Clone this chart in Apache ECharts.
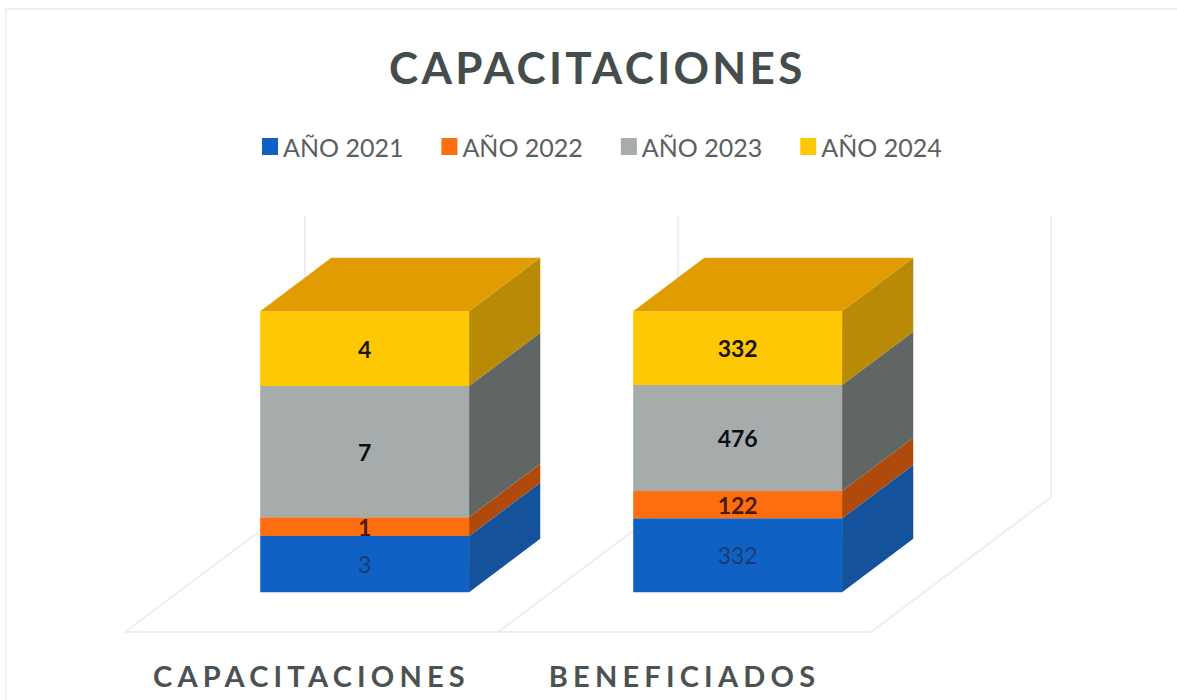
<!DOCTYPE html>
<html>
<head>
<meta charset="utf-8">
<title>CAPACITACIONES</title>
<script src="https://cdn.jsdelivr.net/npm/echarts@6/dist/echarts.min.js"></script>
<style>
  html, body { margin: 0; padding: 0; background: #fff; }
  #main { width: 1177px; height: 700px; }
  /* echarts has no letterSpacing, the svg renderer lets css do it */
  #main text[style*="44px"] { letter-spacing: 3.3px; }
  #main text[style*="29px"] { letter-spacing: 5.2px; }
</style>
</head>
<body>
<div id="main"></div>
<script>
const categories = ["CAPACITACIONES", "BENEFICIADOS"];
const anio2021 = [3, 332];
const anio2022 = [1, 122];
const anio2023 = [7, 476];
const anio2024 = [4, 332];

const yearNames = ["AÑO 2021", "AÑO 2022", "AÑO 2023", "AÑO 2024"];
const yearValues = [anio2021, anio2022, anio2023, anio2024];
const frontColors = ["#0f62c4", "#fd6e10", "#a5acab", "#fec805"];
const sideColors = ["#14529c", "#b04a0c", "#5f6663", "#b98a05"];
const labelColors = ["#1b3a75", "#4a1c05", "#0b0f12", "#1a1405"];
const labelWeights = ["normal", "bold", "bold", "bold"];
const topColor = "#e09c00";

// depth of the fake 3d box, as share of a category band
const depthX = 0.483;
const depthY = 0.362;
const barWidth = 0.56;
const barFront = 0.295;
const barBack = 0.69;

const totals = categories.map((c, i) => yearValues.reduce((s, v) => s + v[i], 0));

function shift(pt, d, band) {
  return [pt[0] + d * depthX * band, pt[1] - d * depthY * band];
}

function renderSegment(s) {
  return function(params, api) {
    const cat = api.value(0);
    const start = api.value(1);
    const end = api.value(2);
    const band = api.size([1, 0])[0];
    const half = (band * barWidth) / 2;
    const center = api.coord([cat, 0])[0];
    const y0 = api.coord([cat, start])[1];
    const y1 = api.coord([cat, end])[1];
    const fbl = shift([center - half, y0], barFront, band);
    const fbr = shift([center + half, y0], barFront, band);
    const ftr = shift([center + half, y1], barFront, band);
    const ftl = shift([center - half, y1], barFront, band);
    const bbr = shift([center + half, y0], barBack, band);
    const btr = shift([center + half, y1], barBack, band);
    const btl = shift([center - half, y1], barBack, band);
    const children = [
      { type: "polygon", shape: { points: [fbr, bbr, btr, ftr] }, style: { fill: sideColors[s] } },
      { type: "polygon", shape: { points: [fbl, fbr, ftr, ftl] }, style: { fill: frontColors[s] } }
    ];
    if (s === yearNames.length - 1) {
      children.push({ type: "polygon", shape: { points: [ftl, ftr, btr, btl] }, style: { fill: topColor } });
    }
    children.push({
      type: "text",
      style: {
        text: String(api.value(3)),
        x: (fbl[0] + fbr[0]) / 2,
        y: (fbl[1] + ftl[1]) / 2,
        align: "center",
        verticalAlign: "middle",
        fill: labelColors[s],
        font: labelWeights[s] + " 23px Lato"
      }
    });
    return { type: "group", children: children };
  };
}

// floor and wall edges, one item per category
function renderWalls(params, api) {
  const cat = api.value(0);
  const band = api.size([1, 0])[0];
  const center = api.coord([cat, 0])[0];
  const y0 = api.coord([cat, 0])[1];
  const y100 = api.coord([cat, 100])[1];
  const left = center - band / 2;
  const right = center + band / 2;
  const stroke = { stroke: "#eeeef2", lineWidth: 2, fill: null };
  const line = (a, b) => ({ type: "polyline", shape: { points: [a, b] }, style: stroke });
  const children = [
    line([left, y0], [right, y0]),
    line([left, y0], shift([left, y0], 1, band)),
    line(shift([left, y0], 1, band), shift([left, y100], 1, band))
  ];
  if (cat === categories.length - 1) {
    children.push(line([right, y0], shift([right, y0], 1, band)));
    children.push(line(shift([right, y0], 1, band), shift([right, y100], 1, band)));
  }
  return { type: "group", children: children };
}

const series = [{
  name: "walls",
  type: "custom",
  renderItem: renderWalls,
  silent: true,
  clip: false,
  data: categories.map((c, i) => [i]),
  z: 1
}];

yearNames.forEach((name, s) => {
  series.push({
    name: name,
    type: "custom",
    renderItem: renderSegment(s),
    clip: false,
    itemStyle: { color: frontColors[s] },
    encode: { x: 0, y: 2 },
    z: 2,
    data: categories.map((c, i) => {
      let before = 0;
      for (let k = 0; k < s; k++) before += yearValues[k][i];
      return [i, (before / totals[i]) * 100, ((before + yearValues[s][i]) / totals[i]) * 100, yearValues[s][i]];
    })
  });
});

const option = {
  backgroundColor: "#fff",
  animation: false,
  title: {
    text: "CAPACITACIONES",
    left: 384,
    top: 40,
    textStyle: { fontFamily: "Lato", fontSize: 44, fontWeight: "bold", color: "#444c4c" }
  },
  legend: {
    data: yearNames,
    left: 257,
    top: 129,
    icon: "rect",
    itemWidth: 16,
    itemHeight: 17,
    itemGap: 38,
    selectedMode: false,
    textStyle: { fontFamily: "Lato", fontSize: 25, color: "#5a5f60" }
  },
  grid: { left: 125, right: 306, top: 351, bottom: 68 },
  xAxis: {
    type: "category",
    data: categories,
    axisLine: { show: false },
    axisTick: { show: false },
    axisLabel: { margin: 29, fontFamily: "Lato", fontSize: 29, fontWeight: "bold", color: "#4c5252", interval: 0 }
  },
  yAxis: { type: "value", min: 0, max: 100, show: false },
  graphic: [{
    // scan frame: only top and left edges fall inside the picture
    type: "rect",
    shape: { x: 6, y: 9, width: 1200, height: 720 },
    style: { fill: null, stroke: "#f0f0f4", lineWidth: 2 },
    silent: true,
    z: 0
  }],
  series: series
};

const chart = echarts.init(document.getElementById("main"), null, { renderer: "svg" });
chart.setOption(option);
</script>
</body>
</html>
